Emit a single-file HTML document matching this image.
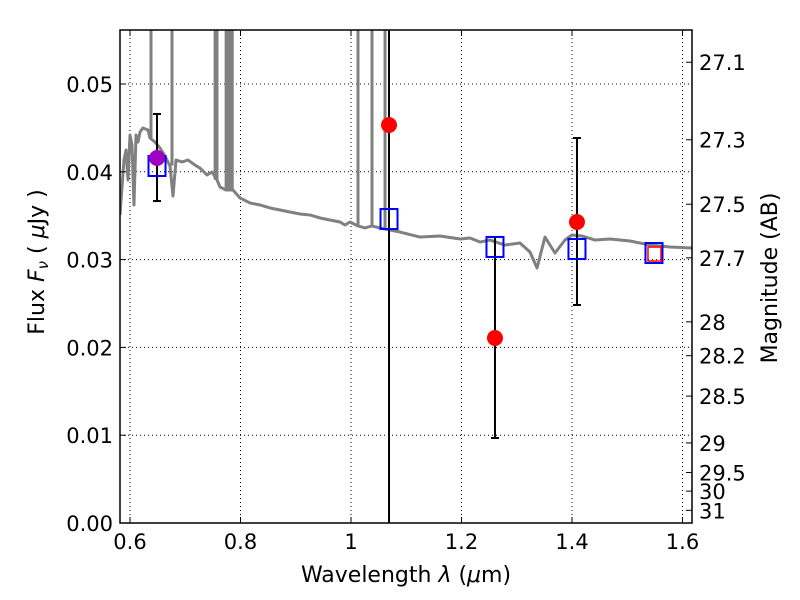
<!DOCTYPE html>
<html><head><meta charset="utf-8"><style>
html,body{margin:0;padding:0;background:#fff;width:800px;height:600px;overflow:hidden;}
svg{display:block;}
svg text{font-family:"DejaVu Sans","Liberation Sans",sans-serif;}
</style></head><body>
<svg id="chart" width="800" height="600" style="position:absolute;left:0;top:0" xmlns="http://www.w3.org/2000/svg"></svg>
<script>
const specLam=[.5819,.5891,.5928,.5964,.6000,.6036,.6072,.6109,.6145,.6181,.6235,.6326,.6362,.6452,.6543,.6633,.6724,.6778,.6833,.6941,.7050,.7176,.7267,.7394,.7484,.7575,.7629,.7738,.7864,.7991,.8172,.8353,.8534,.8715,.8896,.9077,.9258,.9439,.9620,.9801,.9891,.9982,1.0127,1.0253,1.0380,1.0525,1.0706,1.0887,1.1249,1.1611,1.1973,1.2154,1.2335,1.2516,1.2787,1.3059,1.3240,1.3367,1.3511,1.3692,1.3873,1.4000,1.4181,1.4416,1.4688,1.5050,1.5412,1.5774,1.6172];
const specFlux=[.03508,.04134,.04248,.03907,.04419,.04305,.03622,.04419,.04339,.04453,.04499,.04476,.04385,.04339,.04271,.04180,.04066,.03724,.04134,.04112,.04134,.04077,.04043,.03964,.03998,.03907,.03827,.03793,.03793,.03702,.03645,.03622,.03588,.03565,.03542,.03519,.03508,.03474,.03451,.03428,.03394,.03428,.03383,.03360,.03383,.03360,.03337,.03314,.03257,.03269,.03235,.03246,.03200,.03223,.03166,.03189,.03087,.02904,.03257,.03075,.03223,.03280,.03269,.03223,.03235,.03212,.03166,.03144,.03132];
const spikeLam=[.638,.676,.754,.7575,.774,.777,.781,.785,1.0127,1.038,1.0616];
const spikeBase=[.0438,.0407,.0391,.0390,.0379,.0379,.0379,.0379,.0338,.0338,.0335];
const obsLam=[0.6489,1.0688,1.2606,1.409];
const obsFlux=[0.04157,0.04533,0.02107,0.03428];
const obsLo=[0.03667,-0.001,0.00968,0.02483];
const obsHi=[0.04658,0.06,0.03257,0.04385];
const modLam=[0.6489,1.0688,1.2606,1.409,1.5484];
const modFlux=[0.04066,0.03462,0.03144,0.03121,0.03075];
const xTicks=[0.6,0.8,1.0,1.2,1.4,1.6];
const xTickLabels=["0.6","0.8","1","1.2","1.4","1.6"];
const yTicks=[0,0.01,0.02,0.03,0.04,0.05];
const yTickLabels=["0.00","0.01","0.02","0.03","0.04","0.05"];
const magTicks=[27.1,27.3,27.5,27.7,28,28.2,28.5,29,29.5,30,31];
const magLabels=["27.1","27.3","27.5","27.7","28","28.2","28.5","29","29.5","30","31"];

const L=120,R=692,T=30,B=523;
const X=v=>130+(v-0.6)*552.5;
const Y=v=>523-v*8780;
const svg=document.getElementById('chart');
const NS='http://www.w3.org/2000/svg';
function mk(tag,attrs,parent){const e=document.createElementNS(NS,tag);for(const k in attrs)e.setAttribute(k,attrs[k]);(parent||svg).appendChild(e);return e;}
const defs=mk('defs',{});const cp=mk('clipPath',{id:'clip'},defs);mk('rect',{x:L,y:T,width:R-L,height:B-T},cp);

xTicks.forEach((t,i)=>{const g=mk('line',{x1:X(t),x2:X(t),y1:T,y2:B,stroke:'#000','stroke-width':1,'stroke-dasharray':'1,3'});

});
yTicks.forEach((t,i)=>{const g=mk('line',{x1:L,x2:R,y1:Y(t),y2:Y(t),stroke:'#000','stroke-width':1,'stroke-dasharray':'1,3'});

});

const plot=mk('g',{'clip-path':'url(#clip)'});


spikeLam.forEach((l,i)=>{const s=mk('line',{x1:X(l),x2:X(l),y1:Y(spikeBase[i]),y2:T-2,stroke:'#808080','stroke-width':3},plot);

});
const sp=mk('polyline',{points:specLam.map((l,i)=>X(l)+','+Y(specFlux[i])).join(' '),fill:'none',stroke:'#808080','stroke-width':3,'stroke-linejoin':'round'},plot);


obsLam.forEach((l,i)=>{const x=X(l);
const e=mk('line',{x1:x,x2:x,y1:Y(obsHi[i]),y2:Y(obsLo[i]),stroke:'#000','stroke-width':2},plot);


[obsHi[i],obsLo[i]].forEach(v=>{const c=mk('line',{x1:x-4,x2:x+4,y1:Y(v),y2:Y(v),stroke:'#000','stroke-width':2},plot);

});});
modLam.forEach((l,i)=>{const sq=mk('rect',{x:X(l)-8.5,y:Y(modFlux[i])-10,width:17,height:20,fill:'none',stroke:'#0000ff','stroke-width':2},plot);

});
const li=modLam.length-1;
const rs=mk('rect',{x:X(modLam[li])-6,y:Y(modFlux[li])-6,width:13,height:14,fill:'none',stroke:'#ff0000','stroke-width':1.5},plot);


obsLam.forEach((l,i)=>{const d=mk('circle',{cx:X(l),cy:Y(obsFlux[i]),r:8,fill:i===0?'#a000c0':'#ff0000'},plot);

});

const fr=mk('rect',{x:L,y:T,width:R-L,height:B-T,fill:'none',stroke:'#000','stroke-width':1.5});


xTicks.forEach((t,i)=>{const x=X(t);
mk('line',{x1:x,x2:x,y1:B,y2:B-6,stroke:'#000'});mk('line',{x1:x,x2:x,y1:T,y2:T+6,stroke:'#000'});
const tx=mk('text',{x:x,y:B+26,'font-size':21,'text-anchor':'middle'});tx.textContent=xTickLabels[i];

});
yTicks.forEach((t,i)=>{const y=Y(t);
mk('line',{x1:L,x2:L+6,y1:y,y2:y,stroke:'#000'});
const tx=mk('text',{x:L-7,y:y+8,'font-size':21,'text-anchor':'end'});tx.textContent=yTickLabels[i];

});
magTicks.forEach((m,i)=>{const y=Y(Math.pow(10,(23.9-m)/2.5));
mk('line',{x1:R,x2:R-6,y1:y,y2:y,stroke:'#000'});
const tx=mk('text',{x:R+7,y:y+8,'font-size':21});tx.textContent=magLabels[i];

});
</script>
<svg width="800" height="600" style="position:absolute;left:0;top:0;pointer-events:none" xmlns="http://www.w3.org/2000/svg">
<text x="406" y="582" font-size="22" text-anchor="middle" font-family="DejaVu Sans, sans-serif">Wavelength  <tspan font-style="italic">λ</tspan> (<tspan font-style="italic">μ</tspan>m)</text>
<text transform="translate(44,262) rotate(-90)" font-size="22" text-anchor="middle" font-family="DejaVu Sans, sans-serif">Flux  <tspan font-style="italic">F</tspan><tspan font-style="italic" font-size="15" dy="4">ν</tspan><tspan dy="-4">  ( </tspan><tspan font-style="italic">μ</tspan>Jy )</text>
<text transform="translate(777,278) rotate(-90)" font-size="22" text-anchor="middle" font-family="DejaVu Sans, sans-serif">Magnitude (AB)</text>
</svg>
</body></html>
